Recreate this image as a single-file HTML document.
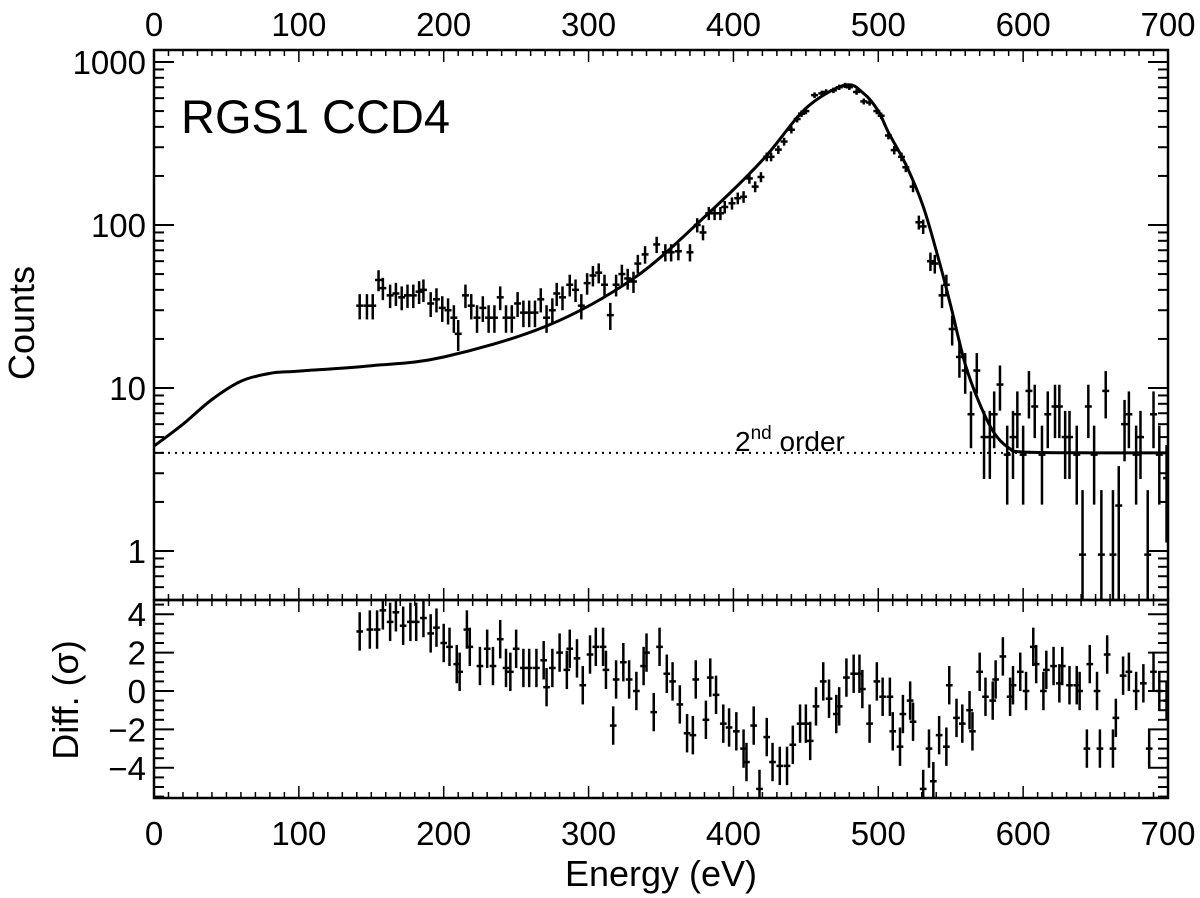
<!DOCTYPE html>
<html><head><meta charset="utf-8"><style>
body{margin:0;background:#fff}
svg{display:block;font-family:"Liberation Sans",sans-serif}
</style></head><body>
<svg id="c" width="1200" height="898" xmlns="http://www.w3.org/2000/svg"></svg>
<script>
const countE=[142,147,151,155,158,163,167,171,175,179,183,186,191,195,199,203,207,210,215,219,223,227,231,235,239,243,247,251,255,259,263,267,271,275,278,282,287,291,295,299,303,307,311,315,319,323,327,331,334,339,347,353,357,362,370,375,379,383,387,391,394,399,403,407,411,415,419,423,426,431,435,440,444,447,450,456,461,464,469,473,477,480,485,490,494,499,502,507,511,516,519,524,528,531,536,539,544,547,551,556,560,564,568,573,577,580,584,589,593,596,600,604,608,613,617,622,625,629,632,637,641,645,649,654,657,662,666,670,673,678,681,686,690,694,699];
const counts=[32,32,32,46,41,37,38,36,37,37,39,40,33,35,31,30,27,21.5,37,32,27,31,27,27,36,27,27,33,29,29,29,35,27,30,38,36,43,40,32,44,49,51,43,28,43,50,47,45,58,66,76,68,68,69,68,100,90,118,118,118,129,136,146,149,193,172,197,262,262,290,325,384,447,482,500,626,642,655,670,700,718,700,655,573,564,500,468,354,288,262,226,172,104,98,60,58,37,43,23,15.5,12.8,6.9,12.8,5,5,6.9,10.5,3.9,5,6.9,3.9,9.6,7.7,3.9,6.9,7.7,7.7,5,5,3.9,0.95,7.7,3.9,0.95,9.6,0.95,1.9,6,6.9,3.9,5,0.95,6.9,3.9,2.8];
const resE=[142,149,154,158,163,167,172,177,181,186,191,195,200,204,209,211,216,218,225,230,234,239,243,246,250,255,259,264,269,271,275,280,285,287,292,296,301,305,310,312,317,319,324,328,333,338,340,345,349,354,358,363,368,372,374,381,384,388,393,397,402,407,409,414,418,423,427,432,437,441,446,450,453,457,462,466,471,473,478,483,487,489,494,499,503,508,510,515,517,522,524,531,535,538,542,547,549,554,558,563,565,570,574,579,581,586,591,593,598,602,607,609,614,616,621,625,627,632,637,639,644,646,651,653,658,662,664,669,673,678,683,687,690,694,699];
const resid=[3.1,3.2,3.2,4.2,3.6,4.1,3.4,3.6,3.6,3.8,3.0,3.3,2.5,2.3,1.4,1.0,3.2,2.3,1.3,2.2,1.3,2.7,1.2,1.0,2.2,1.2,1.2,1.2,1.6,0.2,1.2,2.0,1.1,2.2,1.7,0.3,1.9,2.3,2.3,1.1,-1.8,0.6,1.5,0.6,0,1.3,2.0,-1.1,2.3,0.9,0.5,-0.7,-2.2,-2.3,0.6,-1.5,0.7,-0.2,-1.7,-1.9,-2.1,-3.0,-3.7,-1.8,-5.1,-2.4,-3.7,-3.9,-3.9,-2.8,-1.7,-1.7,-2.6,-0.8,0.5,-0.4,-1.2,-0.8,0.7,0.9,0.9,0.1,-1.7,0.5,-0.3,-0.3,-2.1,-2.9,-1.2,-0.5,-1.6,-5.1,-3.0,-4.7,-2.3,-2.9,0.3,-1.4,-1.7,-1.0,-2.1,1.0,-0.3,-0.5,0.6,1.8,-0.3,0.3,1.0,0,2.3,1.4,0,1.1,1.3,0.4,1.3,0.3,0.3,0,-3.0,1.4,0,-3.0,1.9,-3.0,-1.4,0.8,1.0,0,0.4,-3.0,1.0,0,-0.5];
const modelE=[0,20,40,60,80,100,150,200,271,331,380,420,450,477,490,500,507,519,531,542,550,560,570,580,590,600,650,700];
const modelV=[4.4,6,8.5,11,12.3,12.7,13.7,15.5,24,47,112,250,520,720,640,500,370,235,130,60,32,14,8,5.3,4.3,4.05,4,4];
const xTicks=[0,100,200,300,400,500,600,700];
const yTicks=[1,10,100,1000];
const rTicks=[4,2,0,-2,-4];
const secondOrder=4;

const NS="http://www.w3.org/2000/svg";
const svg=document.getElementById('c');
const L=154,R=1168,T=50,M=600,B=798;
const X=e=>L+(e-0)/700*(R-L);
const Y=v=>551-163*Math.log10(v);
const RY=r=>691-19.2*r;
function el(t,a,p){const e=document.createElementNS(NS,t);for(const k in a)e.setAttribute(k,a[k]);(p||svg).appendChild(e);return e;}
function ln(x1,y1,x2,y2,g,w){return el('line',{x1,y1,x2,y2,stroke:'#000','stroke-width':w||2},g);}

const fr=el('g',{});


el('rect',{x:L,y:T,width:R-L,height:M-T,fill:'none',stroke:'#000','stroke-width':2.5},fr);
el('rect',{x:L,y:M,width:R-L,height:B-M,fill:'none',stroke:'#000','stroke-width':2.5},fr);

const xt=el('g',{});


for(let e=0;e<=700;e+=10){const x=X(e);const maj=e%100===0;const l=maj?12:6;
 ln(x,T,x,T+l,xt,1.5);ln(x,M,x,M-l,xt,1.5);ln(x,M,x,M+l,xt,1.5);ln(x,B,x,B-l,xt,1.5);}
xTicks.forEach(v=>{
 const a=el('text',{x:X(v),y:36,'font-size':33,'text-anchor':'middle'},xt);a.textContent=v;
 
 const b=el('text',{x:X(v),y:845,'font-size':33,'text-anchor':'middle'},xt);b.textContent=v;
 
});
const yt=el('g',{});


for(let d=0.1;d<2000;d*=10){for(let m=1;m<10;m++){const v=d*m;const y=Y(v);if(y<T||y>M)continue;
 const l=m===1?20:10;ln(L,y,L+l,y,yt,2);ln(R,y,R-l,y,yt,2);}}
yTicks.forEach(v=>{const t=el('text',{x:146,y:Y(v)+12,'font-size':33,'text-anchor':'end'},yt);t.textContent=v;
 });
for(let r=-5.5;r<=4.5;r+=0.5){const y=RY(r);if(y<M||y>B)continue;const l=(r%2===0)?20:10;ln(L,y,L+l,y,yt,2);ln(R,y,R-l,y,yt,2);}
rTicks.forEach(v=>{const t=el('text',{x:146,y:RY(v)+12,'font-size':33,'text-anchor':'end'},yt);t.textContent=v<0?'\u2212'+(-v):v;
 });

let t=el('text',{x:661,y:886,'font-size':36,'text-anchor':'middle'});t.textContent='Energy (eV)';

t=el('text',{x:34,y:323,'font-size':36,'text-anchor':'middle',transform:'rotate(-90 34 323)'});t.textContent='Counts';

t=el('text',{x:78,y:700,'font-size':36,'text-anchor':'middle',transform:'rotate(-90 78 700)'});t.textContent='Diff. (σ)';

t=el('text',{x:181,y:133,'font-size':47});t.textContent='RGS1 CCD4';


const defs=el('defs',{});
const cp=el('clipPath',{id:'cu'},defs);el('rect',{x:L,y:T,width:R-L,height:M-T},cp);
const cp2=el('clipPath',{id:'cl'},defs);el('rect',{x:L,y:M,width:R-L,height:B-M},cp2);

const so=el('line',{x1:L,x2:R,y1:Y(secondOrder),y2:Y(secondOrder),stroke:'#000','stroke-width':2,'stroke-dasharray':'2 5'});

t=el('text',{x:735,y:451,'font-size':28});t.innerHTML='2<tspan dy="-12" font-size="19">nd</tspan><tspan dy="12"> order</tspan>';


const pts=modelE.map((e,i)=>[X(e),Y(modelV[i])]);
let d='M'+pts[0][0]+','+pts[0][1];
for(let i=0;i<pts.length-1;i++){const p0=pts[Math.max(0,i-1)],p1=pts[i],p2=pts[i+1],p3=pts[Math.min(pts.length-1,i+2)];
 d+=` C${p1[0]+(p2[0]-p0[0])/6},${p1[1]+(p2[1]-p0[1])/6} ${p2[0]-(p3[0]-p1[0])/6},${p2[1]-(p3[1]-p1[1])/6} ${p2[0]},${p2[1]}`;}
const mc=el('path',{d,fill:'none',stroke:'#000','stroke-width':3,'clip-path':'url(#cu)'});


const dg=el('g',{'clip-path':'url(#cu)'});

countE.forEach((e,i)=>{const v=counts[i];const s=Math.sqrt(Math.max(v,2));const x=X(e),y=Y(v);
 const g=el('g',{},dg);
 
 
 ln(X(e-2.4),y,X(e+2.4),y,g,2.5);
 ln(x,Y(v+s),x,v-s>0.3?Y(v-s):M+5,g,2.5);});
const rg=el('g',{'clip-path':'url(#cl)'});

resE.forEach((e,i)=>{const r=resid[i];const x=X(e),y=RY(r);
 const g=el('g',{},rg);
 
 
 ln(X(e-2.3),y,X(e+2.3),y,g,2.5);
 ln(x,RY(r+1),x,RY(r-1),g,2.5);});
</script>
</body></html>
